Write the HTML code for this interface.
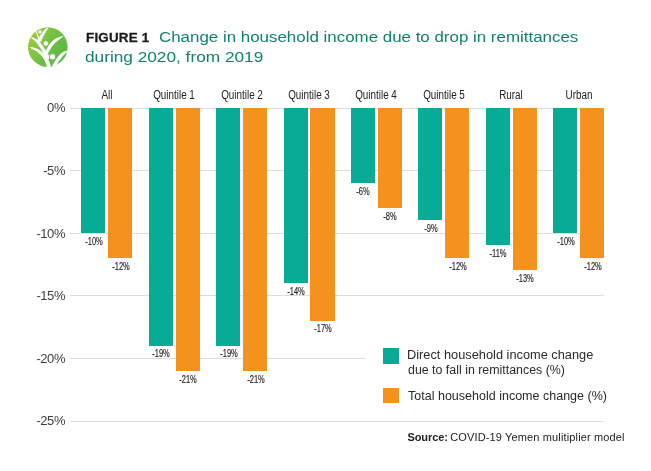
<!DOCTYPE html>
<html><head><meta charset="utf-8"><title>Figure 1</title>
<style>
html,body{margin:0;padding:0;background:#fff;}
body{width:651px;height:471px;position:relative;overflow:hidden;font-family:"Liberation Sans",sans-serif;}
#w{position:absolute;left:0;top:0;width:651px;height:471px;will-change:transform;}
.abs{position:absolute;}
.grid{position:absolute;left:69.6px;width:534.5px;height:1px;background:#dedede;}
.yl{position:absolute;left:0;width:65px;text-align:right;font-size:13px;letter-spacing:-0.45px;color:#404040;line-height:16px;}
.cat{position:absolute;width:80px;text-align:center;font-size:12.5px;color:#222;line-height:14px;transform:scaleX(0.79);transform-origin:50% 50%;white-space:nowrap;}
.bar{position:absolute;}
.vl{position:absolute;width:40px;text-align:center;font-size:10px;color:#1c1c1c;line-height:12px;-webkit-text-stroke:0.15px #1c1c1c;transform:translateY(-0.6px) scaleX(0.75);transform-origin:50% 50%;white-space:nowrap;}
.t1{position:absolute;font-size:15.5px;line-height:20px;color:#12826f;white-space:nowrap;transform-origin:0 50%;}
.fig{position:absolute;left:85.6px;top:28px;line-height:20px;color:#1a1a1a;font-size:12.8px;letter-spacing:0.2px;font-weight:bold;-webkit-text-stroke:0.3px #1a1a1a;white-space:nowrap;transform:scaleX(1.045);transform-origin:0 50%;}
.leg{position:absolute;font-size:12px;color:#2a2a2a;line-height:15px;white-space:nowrap;transform-origin:0 50%;}
.src{position:absolute;font-size:11px;letter-spacing:0.14px;color:#222;white-space:nowrap;line-height:13px;}
</style></head><body><div id="w">
<svg class="abs" style="left:22px;top:22px" width="50" height="50" viewBox="22 22 50 50">
<defs><linearGradient id="g" gradientUnits="userSpaceOnUse" x1="28" y1="35" x2="68" y2="59"><stop offset="0" stop-color="#a0cf3a"/><stop offset="0.45" stop-color="#76c043"/><stop offset="1" stop-color="#52b648"/></linearGradient>
<clipPath id="c"><circle cx="47.8" cy="47.1" r="19.8"/></clipPath></defs>
<circle cx="47.8" cy="47.1" r="19.8" fill="url(#g)"/>
<g clip-path="url(#c)" fill="#fff">
<path d="M48.80,26.80 L48.54,26.95 L48.20,27.14 L47.79,27.37 L47.33,27.64 L46.85,27.92 L46.37,28.23 L45.90,28.55 L45.48,28.88 L45.09,29.22 L44.71,29.58 L44.34,29.95 L43.98,30.33 L43.63,30.72 L43.29,31.12 L42.96,31.52 L42.64,31.92 L42.33,32.32 L42.02,32.73 L41.73,33.14 L41.44,33.56 L41.17,33.97 L40.90,34.39 L40.65,34.81 L40.40,35.23 L40.15,35.66 L39.90,36.10 L39.66,36.54 L39.43,36.99 L39.21,37.44 L39.00,37.88 L38.81,38.31 L38.65,38.75 L38.50,39.19 L38.40,39.63 L38.33,40.03 L38.29,40.39 L38.26,40.71 L38.24,40.97 L38.23,41.15 L38.22,41.28 L41.38,41.72 L41.42,41.53 L41.45,41.29 L41.48,41.06 L41.51,40.82 L41.56,40.58 L41.61,40.33 L41.67,40.09 L41.75,39.85 L41.87,39.57 L42.01,39.22 L42.18,38.85 L42.37,38.45 L42.57,38.03 L42.78,37.61 L43.00,37.18 L43.20,36.77 L43.41,36.36 L43.62,35.95 L43.84,35.54 L44.06,35.13 L44.28,34.72 L44.50,34.31 L44.73,33.90 L44.96,33.48 L45.20,33.07 L45.44,32.64 L45.69,32.22 L45.94,31.79 L46.19,31.37 L46.44,30.95 L46.69,30.53 L46.92,30.12 L47.16,29.69 L47.43,29.22 L47.70,28.74 L47.97,28.26 L48.22,27.81 L48.46,27.40 L48.65,27.06 L48.80,26.80 Z"/>
<path d="M35.23,30.38 L35.35,30.71 L35.50,31.14 L35.69,31.66 L35.89,32.23 L36.10,32.83 L36.31,33.43 L36.51,34.00 L36.69,34.53 L36.86,35.02 L37.02,35.52 L37.18,36.02 L37.34,36.52 L37.49,36.99 L37.64,37.44 L37.77,37.86 L37.89,38.24 L37.99,38.58 L38.09,38.89 L38.18,39.18 L38.25,39.44 L38.32,39.68 L38.38,39.88 L38.44,40.06 L38.48,40.21 L39.92,39.79 L39.88,39.65 L39.83,39.48 L39.78,39.27 L39.71,39.02 L39.63,38.75 L39.54,38.44 L39.43,38.11 L39.31,37.76 L39.18,37.38 L39.03,36.97 L38.86,36.52 L38.68,36.05 L38.50,35.56 L38.30,35.06 L38.11,34.57 L37.91,34.07 L37.69,33.55 L37.45,32.99 L37.20,32.40 L36.95,31.81 L36.71,31.25 L36.49,30.75 L36.30,30.33 L36.17,30.02 Z"/>
<path d="M30.20,36.90 L30.36,37.04 L30.58,37.22 L30.83,37.44 L31.12,37.68 L31.41,37.94 L31.69,38.19 L31.95,38.42 L32.16,38.61 L32.33,38.78 L32.47,38.92 L32.58,39.05 L32.70,39.18 L32.83,39.32 L32.98,39.47 L33.17,39.65 L33.42,39.87 L33.72,40.12 L34.04,40.37 L34.36,40.62 L34.69,40.87 L35.02,41.14 L35.34,41.41 L35.64,41.70 L35.93,42.01 L36.24,42.37 L36.57,42.79 L36.92,43.25 L37.29,43.74 L37.65,44.25 L38.02,44.76 L38.37,45.27 L38.71,45.75 L39.03,46.21 L39.35,46.68 L39.66,47.15 L39.96,47.62 L40.27,48.09 L40.56,48.55 L40.85,48.99 L41.13,49.42 L41.39,49.81 L41.63,50.16 L41.85,50.49 L42.06,50.80 L42.26,51.11 L42.47,51.41 L42.68,51.74 L42.90,52.08 L43.12,52.43 L43.35,52.79 L43.58,53.18 L43.82,53.58 L44.08,54.01 L44.35,54.46 L44.65,54.92 L44.98,55.40 L45.35,55.93 L45.77,56.49 L46.21,57.08 L46.65,57.67 L47.08,58.24 L47.47,58.74 L47.79,59.16 L48.03,59.47 L50.57,57.53 L50.33,57.21 L50.00,56.79 L49.62,56.29 L49.20,55.74 L48.76,55.16 L48.33,54.60 L47.95,54.06 L47.62,53.60 L47.35,53.18 L47.10,52.77 L46.86,52.36 L46.63,51.95 L46.41,51.55 L46.18,51.14 L45.94,50.73 L45.70,50.32 L45.46,49.94 L45.24,49.60 L45.02,49.27 L44.80,48.95 L44.59,48.63 L44.36,48.30 L44.13,47.96 L43.87,47.58 L43.60,47.18 L43.32,46.75 L43.01,46.29 L42.70,45.82 L42.37,45.33 L42.02,44.83 L41.66,44.34 L41.29,43.85 L40.91,43.37 L40.51,42.87 L40.09,42.36 L39.66,41.85 L39.22,41.35 L38.78,40.86 L38.33,40.41 L37.87,39.99 L37.40,39.61 L36.92,39.29 L36.45,39.01 L36.01,38.78 L35.59,38.58 L35.21,38.41 L34.87,38.26 L34.58,38.13 L34.33,38.00 L34.11,37.89 L33.91,37.80 L33.73,37.71 L33.54,37.63 L33.33,37.55 L33.10,37.47 L32.84,37.39 L32.52,37.30 L32.16,37.23 L31.78,37.16 L31.39,37.09 L31.02,37.03 L30.69,36.98 L30.41,36.93 L30.20,36.90 Z"/>
<path d="M63.60,35.80 L63.37,35.85 L63.07,35.91 L62.71,35.98 L62.31,36.07 L61.89,36.16 L61.45,36.26 L61.02,36.38 L60.62,36.50 L60.23,36.62 L59.85,36.76 L59.45,36.90 L59.05,37.06 L58.64,37.23 L58.22,37.41 L57.78,37.62 L57.34,37.84 L56.89,38.06 L56.44,38.30 L55.96,38.55 L55.46,38.82 L54.94,39.12 L54.42,39.46 L53.89,39.83 L53.37,40.25 L52.85,40.69 L52.33,41.17 L51.82,41.68 L51.31,42.20 L50.81,42.74 L50.33,43.29 L49.87,43.84 L49.44,44.38 L49.03,44.94 L48.65,45.50 L48.29,46.06 L47.97,46.61 L47.67,47.15 L47.38,47.66 L47.11,48.16 L46.84,48.64 L46.56,49.13 L46.27,49.63 L45.99,50.14 L45.73,50.64 L45.47,51.11 L45.24,51.56 L45.03,51.97 L44.85,52.34 L44.70,52.66 L44.58,52.95 L44.49,53.20 L44.41,53.42 L44.36,53.61 L44.31,53.77 L44.28,53.90 L44.25,54.00 L46.55,55.20 L46.63,55.10 L46.71,54.99 L46.81,54.87 L46.93,54.73 L47.05,54.56 L47.20,54.37 L47.36,54.14 L47.55,53.86 L47.76,53.54 L48.01,53.16 L48.28,52.74 L48.56,52.29 L48.86,51.82 L49.16,51.33 L49.46,50.85 L49.76,50.36 L50.07,49.86 L50.36,49.35 L50.65,48.84 L50.94,48.34 L51.23,47.84 L51.53,47.36 L51.84,46.88 L52.16,46.42 L52.52,45.93 L52.92,45.42 L53.33,44.91 L53.76,44.40 L54.19,43.90 L54.62,43.41 L55.04,42.96 L55.43,42.55 L55.82,42.19 L56.21,41.84 L56.61,41.51 L57.02,41.19 L57.43,40.88 L57.85,40.57 L58.26,40.26 L58.66,39.96 L59.03,39.67 L59.39,39.41 L59.73,39.15 L60.07,38.91 L60.41,38.66 L60.74,38.41 L61.07,38.16 L61.38,37.90 L61.70,37.63 L62.03,37.33 L62.35,37.02 L62.66,36.72 L62.95,36.44 L63.21,36.18 L63.43,35.96 L63.60,35.80 Z"/>
<path d="M29.40,47.10 L29.57,47.21 L29.79,47.37 L30.06,47.55 L30.36,47.76 L30.67,47.97 L30.99,48.18 L31.29,48.38 L31.56,48.56 L31.81,48.72 L32.05,48.86 L32.28,49.01 L32.51,49.14 L32.75,49.29 L33.01,49.43 L33.28,49.59 L33.59,49.77 L33.93,49.95 L34.28,50.14 L34.64,50.32 L35.00,50.51 L35.36,50.70 L35.71,50.91 L36.06,51.12 L36.41,51.36 L36.77,51.62 L37.16,51.91 L37.56,52.23 L37.96,52.56 L38.38,52.90 L38.79,53.25 L39.20,53.62 L39.60,53.98 L40.00,54.36 L40.41,54.73 L40.80,55.11 L41.19,55.49 L41.56,55.88 L41.92,56.27 L42.26,56.66 L42.58,57.07 L42.89,57.50 L43.20,57.96 L43.51,58.45 L43.81,58.96 L44.09,59.47 L44.37,59.98 L44.63,60.48 L44.86,60.96 L45.06,61.40 L45.24,61.82 L45.40,62.23 L45.54,62.65 L45.68,63.07 L45.82,63.51 L45.96,63.96 L46.10,64.43 L46.25,64.93 L46.40,65.49 L46.56,66.08 L46.71,66.68 L46.85,67.25 L46.98,67.77 L47.09,68.22 L47.18,68.56 L51.22,67.44 L51.13,67.12 L51.00,66.69 L50.85,66.17 L50.68,65.59 L50.49,64.97 L50.30,64.34 L50.10,63.73 L49.90,63.17 L49.71,62.67 L49.53,62.19 L49.33,61.72 L49.13,61.24 L48.92,60.76 L48.68,60.26 L48.42,59.76 L48.14,59.24 L47.84,58.72 L47.52,58.19 L47.18,57.64 L46.82,57.08 L46.44,56.53 L46.05,55.98 L45.64,55.44 L45.22,54.93 L44.79,54.44 L44.34,53.98 L43.88,53.54 L43.42,53.12 L42.96,52.72 L42.50,52.34 L42.05,51.97 L41.60,51.62 L41.14,51.26 L40.67,50.91 L40.19,50.56 L39.71,50.22 L39.23,49.90 L38.75,49.59 L38.27,49.31 L37.79,49.04 L37.31,48.81 L36.84,48.60 L36.38,48.43 L35.93,48.28 L35.51,48.15 L35.12,48.04 L34.75,47.93 L34.41,47.83 L34.08,47.73 L33.77,47.64 L33.48,47.56 L33.20,47.48 L32.92,47.41 L32.64,47.35 L32.35,47.29 L32.04,47.24 L31.70,47.20 L31.33,47.17 L30.95,47.15 L30.56,47.13 L30.20,47.12 L29.88,47.11 L29.60,47.11 L29.40,47.10 Z"/>
<path d="M68.20,50.40 L67.77,50.52 L67.20,50.66 L66.51,50.83 L65.75,51.02 L64.96,51.25 L64.18,51.50 L63.44,51.78 L62.80,52.10 L62.23,52.46 L61.68,52.85 L61.16,53.29 L60.66,53.75 L60.17,54.23 L59.70,54.72 L59.25,55.21 L58.80,55.70 L58.36,56.19 L57.94,56.70 L57.52,57.23 L57.12,57.76 L56.74,58.28 L56.38,58.81 L56.03,59.31 L55.70,59.80 L55.40,60.26 L55.13,60.71 L54.88,61.15 L54.65,61.57 L54.42,62.00 L54.20,62.42 L53.96,62.86 L53.70,63.30 L53.41,63.76 L53.10,64.25 L52.78,64.75 L52.45,65.24 L52.14,65.73 L51.85,66.19 L51.60,66.62 L51.40,67.00 L51.26,67.35 L51.16,67.67 L51.09,67.96 L51.06,68.23 L51.04,68.47 L51.03,68.68 L51.02,68.86 L51.00,69.00 L58.00,70.00 L57.95,69.49 L57.87,68.78 L57.77,67.93 L57.66,67.01 L57.58,66.05 L57.53,65.13 L57.53,64.30 L57.60,63.60 L57.75,63.04 L57.95,62.58 L58.20,62.17 L58.49,61.81 L58.80,61.46 L59.13,61.11 L59.47,60.73 L59.80,60.30 L60.13,59.82 L60.48,59.32 L60.84,58.81 L61.21,58.28 L61.60,57.75 L61.99,57.22 L62.39,56.70 L62.80,56.20 L63.23,55.70 L63.70,55.18 L64.18,54.67 L64.66,54.16 L65.14,53.67 L65.60,53.20 L66.02,52.78 L66.40,52.40 L66.74,52.07 L67.06,51.77 L67.36,51.50 L67.63,51.26 L67.87,51.06 L68.08,50.88 L68.26,50.73 L68.40,50.60 Z"/>
<circle cx="40.0" cy="31.9" r="2.15" fill="#fff" stroke="url(#g)" stroke-width="0.8"/>
<circle cx="45.8" cy="43.5" r="2.8" fill="#fff" stroke="url(#g)" stroke-width="1.0"/>
<circle cx="52.5" cy="56.8" r="3.2" fill="#fff" stroke="url(#g)" stroke-width="1.0"/>
</g></svg>
<div class="fig">FIGURE 1</div>
<div class="t1" style="left:158.9px;top:27px;transform:scaleX(1.091)">Change in household income due to drop in remittances</div>
<div class="t1" style="left:85.2px;top:47px;transform:translateY(-0.3px) scaleX(1.112)">during 2020, from 2019</div>
<div class="grid" style="top:107.50px"></div>
<div class="yl" style="top:100.40px">0%</div>
<div class="grid" style="top:170.10px"></div>
<div class="yl" style="top:163.00px">-5%</div>
<div class="grid" style="top:232.70px"></div>
<div class="yl" style="top:225.60px">-10%</div>
<div class="grid" style="top:295.30px"></div>
<div class="yl" style="top:288.20px">-15%</div>
<div class="grid" style="top:357.90px"></div>
<div class="yl" style="top:350.80px">-20%</div>
<div class="grid" style="top:420.50px"></div>
<div class="yl" style="top:413.40px">-25%</div>
<div class="cat" style="left:66.85px;top:88px">All</div>
<div class="bar" style="left:81.30px;top:107.60px;width:24.2px;height:125.25px;background:#08ab96"></div>
<div class="bar" style="left:108.20px;top:107.60px;width:24.2px;height:150.30px;background:#f5921e"></div>
<div class="vl" style="left:73.80px;top:236.75px">-10%</div>
<div class="vl" style="left:100.70px;top:261.80px">-12%</div>
<div class="cat" style="left:134.25px;top:88px">Quintile 1</div>
<div class="bar" style="left:148.70px;top:107.60px;width:24.2px;height:237.97px;background:#08ab96"></div>
<div class="bar" style="left:175.60px;top:107.60px;width:24.2px;height:263.03px;background:#f5921e"></div>
<div class="vl" style="left:141.20px;top:349.47px">-19%</div>
<div class="vl" style="left:168.10px;top:374.52px">-21%</div>
<div class="cat" style="left:201.65px;top:88px">Quintile 2</div>
<div class="bar" style="left:216.10px;top:107.60px;width:24.2px;height:237.97px;background:#08ab96"></div>
<div class="bar" style="left:243.00px;top:107.60px;width:24.2px;height:263.03px;background:#f5921e"></div>
<div class="vl" style="left:208.60px;top:349.47px">-19%</div>
<div class="vl" style="left:235.50px;top:374.52px">-21%</div>
<div class="cat" style="left:269.05px;top:88px">Quintile 3</div>
<div class="bar" style="left:283.50px;top:107.60px;width:24.2px;height:175.35px;background:#08ab96"></div>
<div class="bar" style="left:310.40px;top:107.60px;width:24.2px;height:212.93px;background:#f5921e"></div>
<div class="vl" style="left:276.00px;top:286.85px">-14%</div>
<div class="vl" style="left:302.90px;top:324.42px">-17%</div>
<div class="cat" style="left:336.45px;top:88px">Quintile 4</div>
<div class="bar" style="left:350.90px;top:107.60px;width:24.2px;height:75.15px;background:#08ab96"></div>
<div class="bar" style="left:377.80px;top:107.60px;width:24.2px;height:100.20px;background:#f5921e"></div>
<div class="vl" style="left:343.40px;top:186.65px">-6%</div>
<div class="vl" style="left:370.30px;top:211.70px">-8%</div>
<div class="cat" style="left:403.85px;top:88px">Quintile 5</div>
<div class="bar" style="left:418.30px;top:107.60px;width:24.2px;height:112.73px;background:#08ab96"></div>
<div class="bar" style="left:445.20px;top:107.60px;width:24.2px;height:150.30px;background:#f5921e"></div>
<div class="vl" style="left:410.80px;top:224.22px">-9%</div>
<div class="vl" style="left:437.70px;top:261.80px">-12%</div>
<div class="cat" style="left:471.25px;top:88px">Rural</div>
<div class="bar" style="left:485.70px;top:107.60px;width:24.2px;height:137.78px;background:#08ab96"></div>
<div class="bar" style="left:512.60px;top:107.60px;width:24.2px;height:162.83px;background:#f5921e"></div>
<div class="vl" style="left:478.20px;top:249.28px">-11%</div>
<div class="vl" style="left:505.10px;top:274.32px">-13%</div>
<div class="cat" style="left:538.65px;top:88px">Urban</div>
<div class="bar" style="left:553.10px;top:107.60px;width:24.2px;height:125.25px;background:#08ab96"></div>
<div class="bar" style="left:580.00px;top:107.60px;width:24.2px;height:150.30px;background:#f5921e"></div>
<div class="vl" style="left:545.60px;top:236.75px">-10%</div>
<div class="vl" style="left:572.50px;top:261.80px">-12%</div>
<div class="abs" style="left:364.8px;top:340px;width:286px;height:72px;background:#fff"></div>
<div class="abs" style="left:383px;top:348.3px;width:15.6px;height:15.3px;background:#08ab96"></div>
<div class="abs" style="left:383px;top:387.6px;width:15.6px;height:15.4px;background:#f5921e"></div>
<div class="leg" style="left:407.0px;top:348px;transform:scaleX(1.066)">Direct household income change</div>
<div class="leg" style="left:407.6px;top:363px;transform:scaleX(1.032)">due to fall in remittances (%)</div>
<div class="leg" style="left:407.6px;top:388.6px;transform:scaleX(1.043)">Total household income change (%)</div>
<div class="src" style="left:407.5px;top:431.2px"><b style="letter-spacing:-0.1px">Source:</b></div>
<div class="src" style="left:450.2px;top:431.2px">COVID-19 Yemen mulitiplier model</div>
</div></body></html>
